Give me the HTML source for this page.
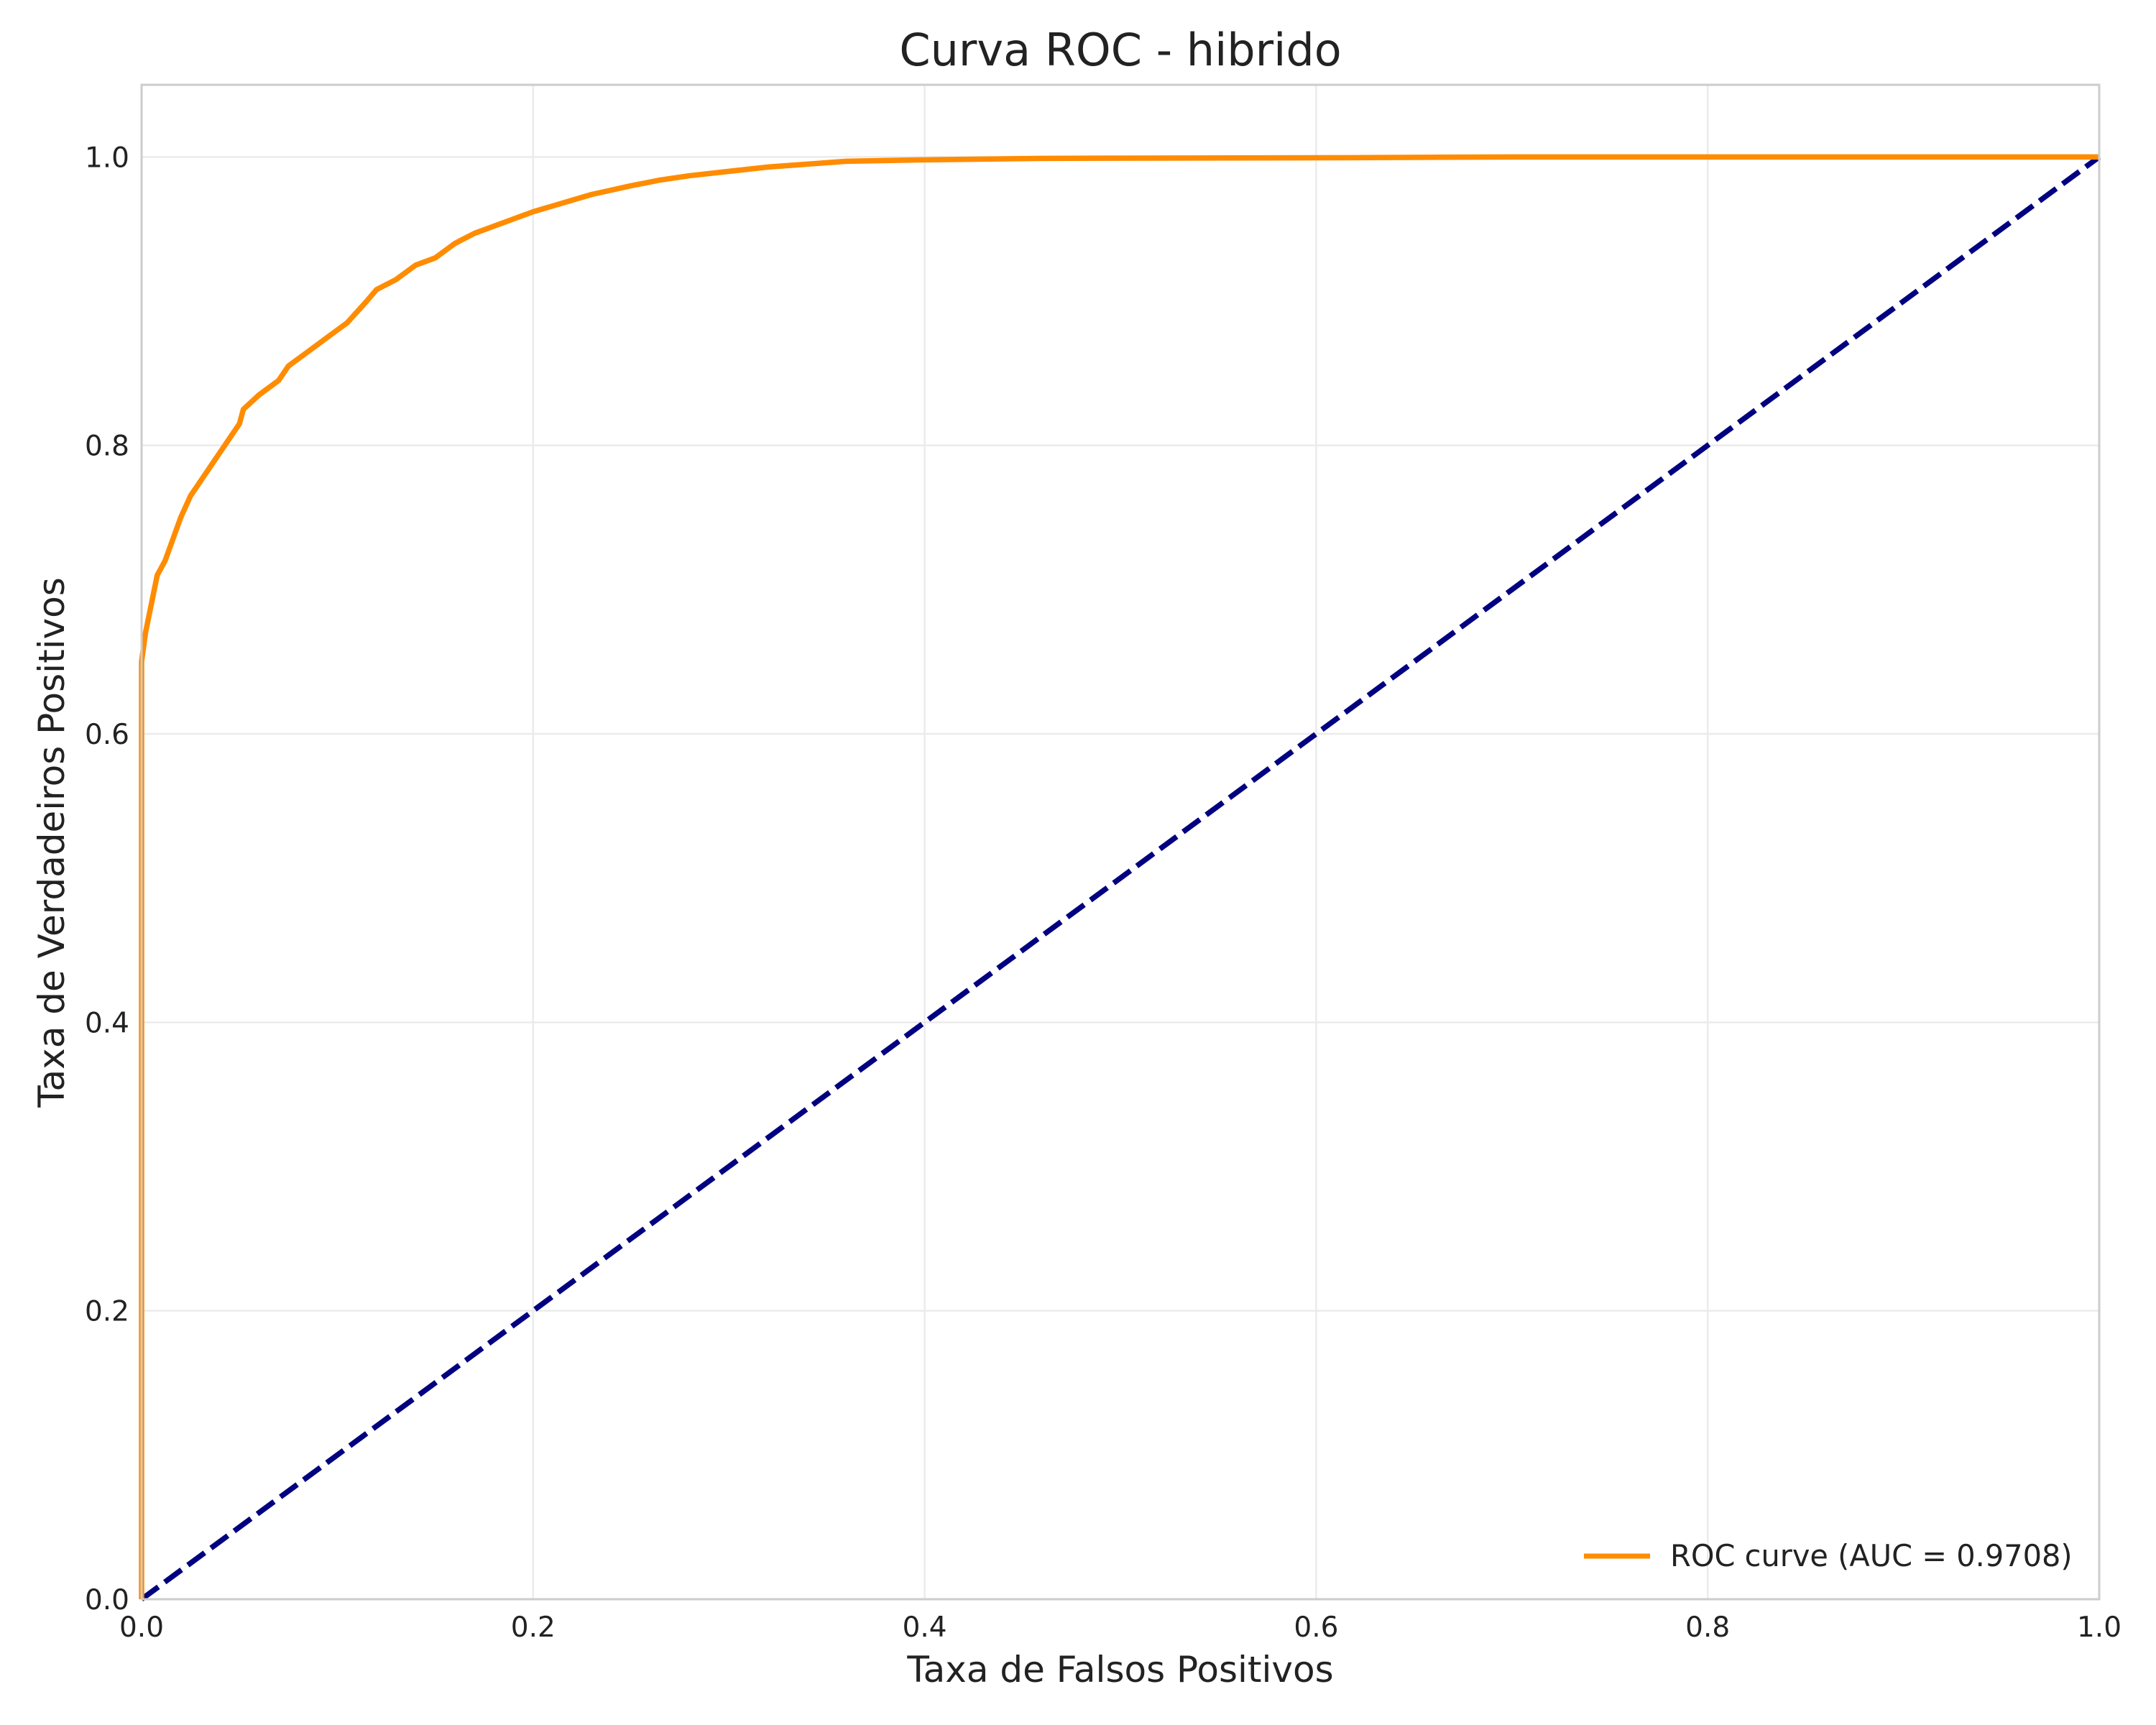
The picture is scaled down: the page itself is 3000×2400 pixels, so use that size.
<!DOCTYPE html>
<html><head><meta charset="utf-8"><style>
html,body{margin:0;padding:0;background:#fff;}
svg{display:block;font-family:"DejaVu Sans","Liberation Sans",sans-serif;}
</style></head><body>
<svg id="chart" width="3000" height="2400" viewBox="0 0 3000 2400" xmlns="http://www.w3.org/2000/svg">
<rect width="3000" height="2400" fill="#fff"/>
<g id="grid"></g>
<g id="series"></g>
<rect x="197" y="118" width="2724" height="2107" fill="none" stroke="#cccccc" stroke-width="3"/>
<g id="ticks"></g>
<text x="1559" y="91" text-anchor="middle" font-size="62" fill="#222">Curva ROC - hibrido</text>
<text x="1559" y="2340" text-anchor="middle" font-size="50" fill="#222">Taxa de Falsos Positivos</text>
<text transform="translate(89,1172) rotate(-90)" text-anchor="middle" font-size="50" fill="#222">Taxa de Verdadeiros Positivos</text>
<g>
<line x1="2204" y1="2165" x2="2296" y2="2165" stroke="#ff8c00" stroke-width="7"/>
<text x="2324" y="2179" font-size="41.5" fill="#222">ROC curve (AUC = 0.9708)</text>
</g>
</svg>
<script>
const fpr = [0,0,0.002,0.005,0.008,0.012,0.016,0.02,0.025,0.03,0.035,0.04,0.045,0.05,0.052,0.06,0.07,0.075,0.085,0.095,0.105,0.115,0.12,0.13,0.14,0.15,0.16,0.17,0.18,0.19,0.2,0.21,0.22,0.23,0.24,0.25,0.265,0.28,0.3,0.32,0.34,0.36,0.4,0.46,0.62,0.7,1];
const tpr = [0,0.65,0.67,0.69,0.71,0.72,0.735,0.75,0.765,0.775,0.785,0.795,0.805,0.815,0.825,0.835,0.845,0.855,0.865,0.875,0.885,0.9,0.908,0.915,0.925,0.93,0.94,0.947,0.952,0.957,0.962,0.966,0.97,0.974,0.977,0.98,0.984,0.987,0.99,0.993,0.995,0.997,0.998,0.999,0.9995,1,1];
const diagX = [0,1];
const diagY = [0,1];
const xTicks = [0,0.2,0.4,0.6,0.8,1.0];
const xTickLabels = ["0.0","0.2","0.4","0.6","0.8","1.0"];
const yTicks = [0,0.2,0.4,0.6,0.8,1.0];
const yTickLabels = ["0.0","0.2","0.4","0.6","0.8","1.0"];

const NS="http://www.w3.org/2000/svg";
const L=197,R=2921,B=2225,T=118,YMAX=1.05;
function sx(v){return L+v*(R-L);}
function sy(v){return B-v/YMAX*(B-T);}
function mk(tag,attrs,parent){const e=document.createElementNS(NS,tag);for(const k in attrs)e.setAttribute(k,attrs[k]);parent.appendChild(e);return e;}
const grid=document.getElementById('grid'),ticks=document.getElementById('ticks'),series=document.getElementById('series');
xTicks.forEach((v,i)=>{
  const g=mk('line',{x1:sx(v),x2:sx(v),y1:T,y2:B,stroke:'#ebebeb','stroke-width':2.5},grid);
  
  
  const t=mk('text',{x:sx(v),y:B+52,'text-anchor':'middle','font-size':39,fill:'#222'},ticks);
  t.textContent=xTickLabels[i];
  
  
});
yTicks.forEach((v,i)=>{
  const g=mk('line',{x1:L,x2:R,y1:sy(v),y2:sy(v),stroke:'#ebebeb','stroke-width':2.5},grid);
  
  
  const t=mk('text',{x:L-17,y:sy(v)+14,'text-anchor':'end','font-size':39,fill:'#222'},ticks);
  t.textContent=yTickLabels[i];
  
  
});
const d=mk('polyline',{points:diagX.map((x,i)=>sx(x)+','+sy(diagY[i])).join(' '),fill:'none',stroke:'#000080','stroke-width':7.5,'stroke-dasharray':'29,11'},series);


const c=mk('polyline',{points:fpr.map((x,i)=>sx(x)+','+sy(tpr[i])).join(' '),fill:'none',stroke:'#ff8c00','stroke-width':7.5,'stroke-linejoin':'round'},series);


</script>
</body></html>
